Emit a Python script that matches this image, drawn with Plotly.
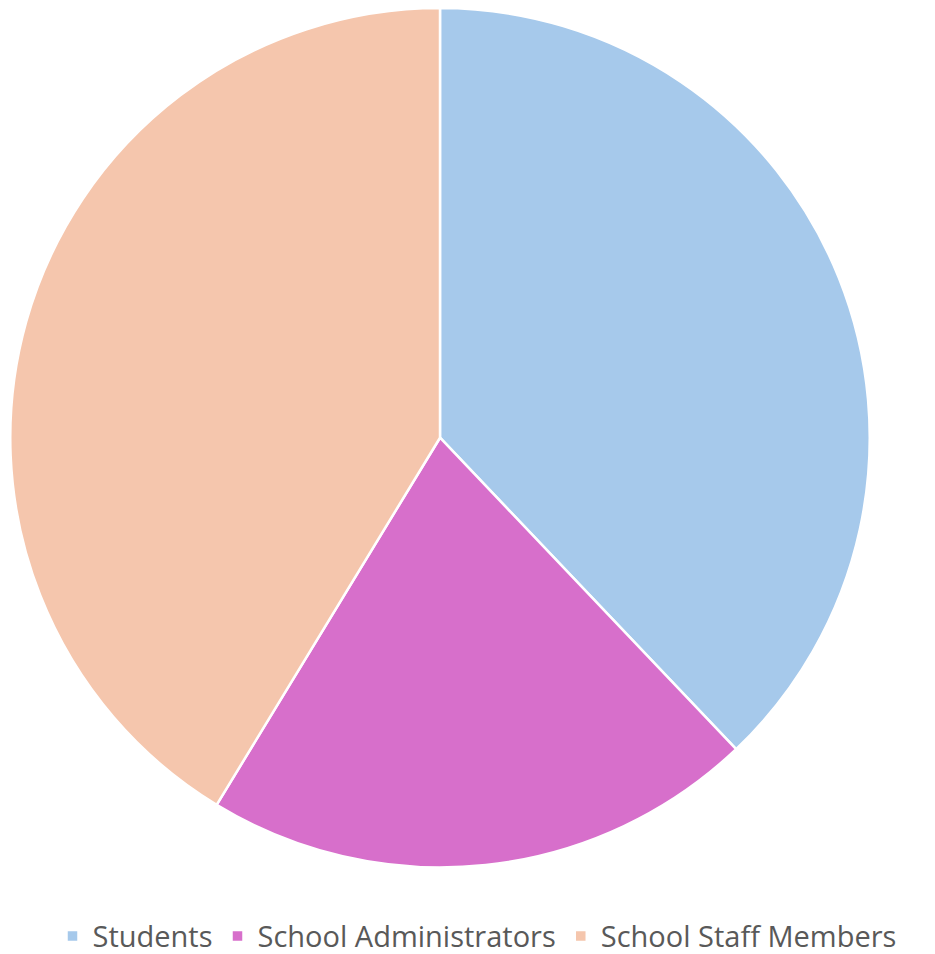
import plotly.graph_objects as go

labels = ["Students", "School Administrators", "School Staff Members"]
values = [37.9, 20.8, 41.3]
colors = ["#A6C9EB", "#D76FCB", "#F5C6AD"]

fig = go.Figure(go.Pie(
    labels=labels,
    values=values,
    sort=False,
    direction="clockwise",
    rotation=0,
    textinfo="none",
    hoverinfo="label+percent",
    marker=dict(colors=colors, line=dict(color="white", width=2.5)),
    domain=dict(x=[0, 864/935], y=[1 - 864/954, 1]),
))

fig.update_layout(
    width=935, height=954,
    margin=dict(l=0, r=0, t=0, b=0),
    paper_bgcolor="white",
    plot_bgcolor="white",
    showlegend=True,
    legend=dict(
        orientation="h",
        x=(477 - 8) / 935, xanchor="center",
        y=(954 - 933) / 954, yanchor="middle",
        font=dict(family="Open Sans, sans-serif", size=29, color="#595959"),
        itemwidth=30,
    ),
)

fig.write_html("out.html")
